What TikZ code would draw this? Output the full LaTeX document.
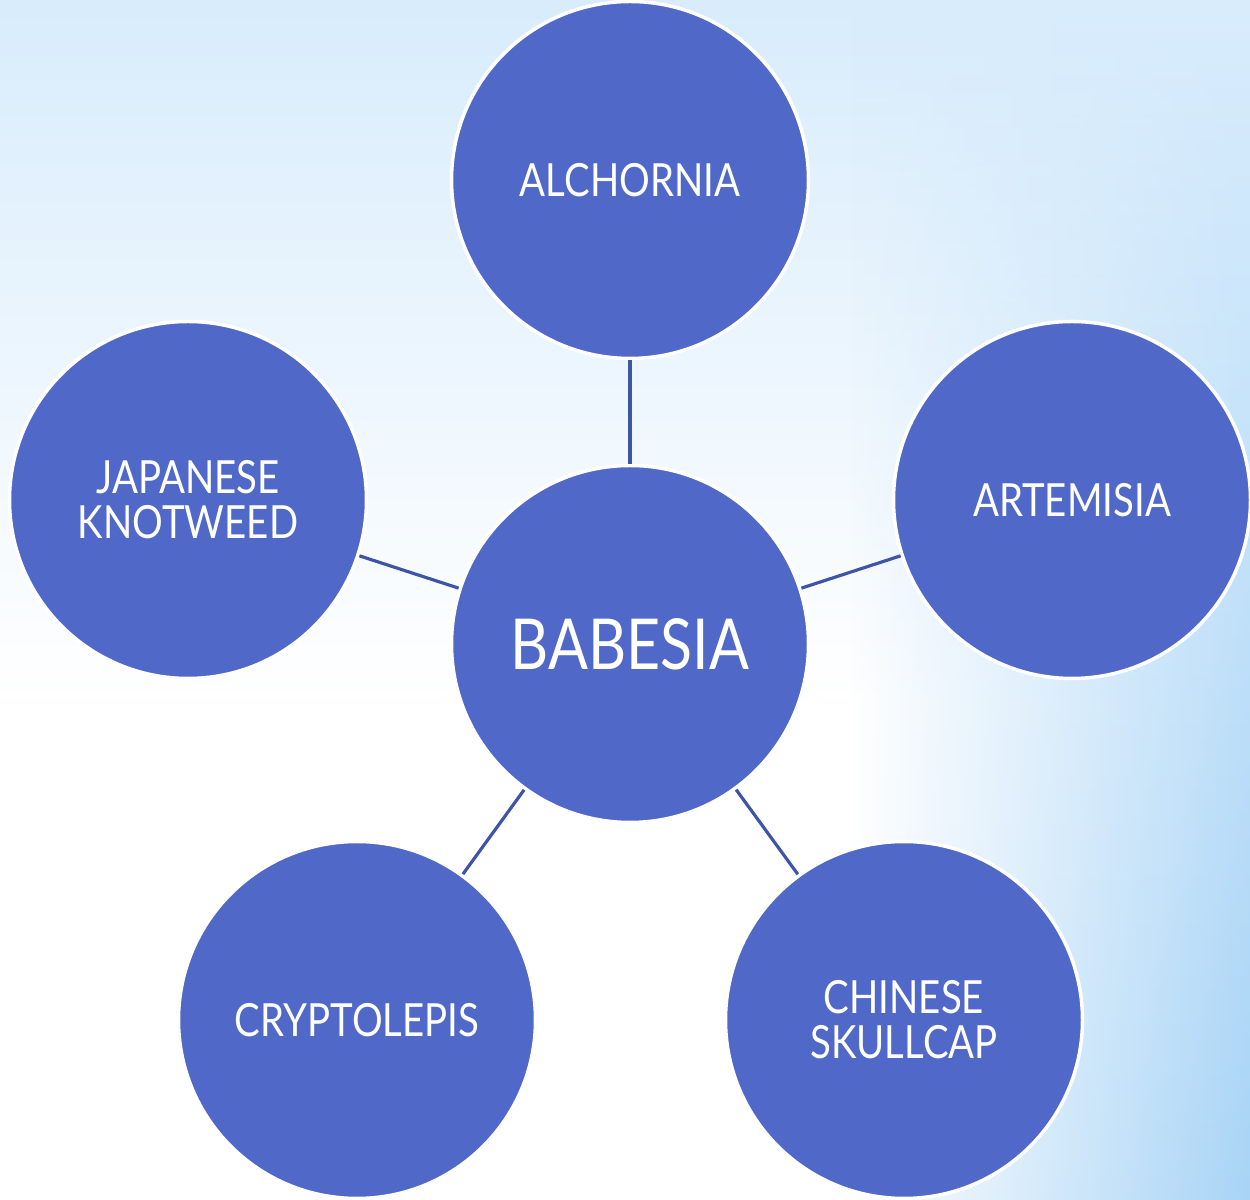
\documentclass[tikz,border=0pt]{standalone}
\usepackage{fontspec}
\setmainfont{Lato}[FakeStretch=0.84]
\usetikzlibrary{fadings}
\definecolor{herbblue}{RGB}{80,104,200}
\definecolor{linkblue}{RGB}{62,84,168}
\definecolor{skytop}{RGB}{216,236,252}
\definecolor{skyside}{RGB}{168,212,246}
\tikzfading[name=fadeside, left color=transparent!100, right color=transparent!0]

\begin{document}
\begin{tikzpicture}
            \tikzstyle{every node}=[circle, fill=herbblue, draw=white, line width=2pt, inner sep=0pt, minimum size=7.14cm, align=center, text=white, font=\fontsize{26}{25.5}\selectfont]
            \tikzstyle{edge}=[linkblue, line width=1.8pt]

            % sky background
            \useasboundingbox (0,0) rectangle (25,24);
            \shade[top color=skytop, bottom color=white] (0,10) rectangle (25,24);
            \fill[white] (0,0) rectangle (25,10);
            \shade[top color=skytop, bottom color=skyside, path fading=fadeside] (17,0) rectangle (25,24);

            \node (babesia) at (12.6,11.12) {\fontsize{40}{40}\selectfont BABESIA};
            \node (alch) at (12.6,20.4) {ALCHORNIA};
            \node (arte) at (21.44,14) {ARTEMISIA};
            \node (knot) at (3.76,14) {JAPANESE\\KNOTWEED};
            \node (crypto) at (7.14,3.6) {CRYPTOLEPIS};
            \node (skull) at (18.08,3.6) {CHINESE\\SKULLCAP};

            \draw[edge] (babesia) -- (alch);
            \draw[edge] (babesia) -- (arte);
            \draw[edge] (babesia) -- (knot);
            \draw[edge] (babesia) -- (crypto);
            \draw[edge] (babesia) -- (skull);
          \end{tikzpicture}
\end{document}
